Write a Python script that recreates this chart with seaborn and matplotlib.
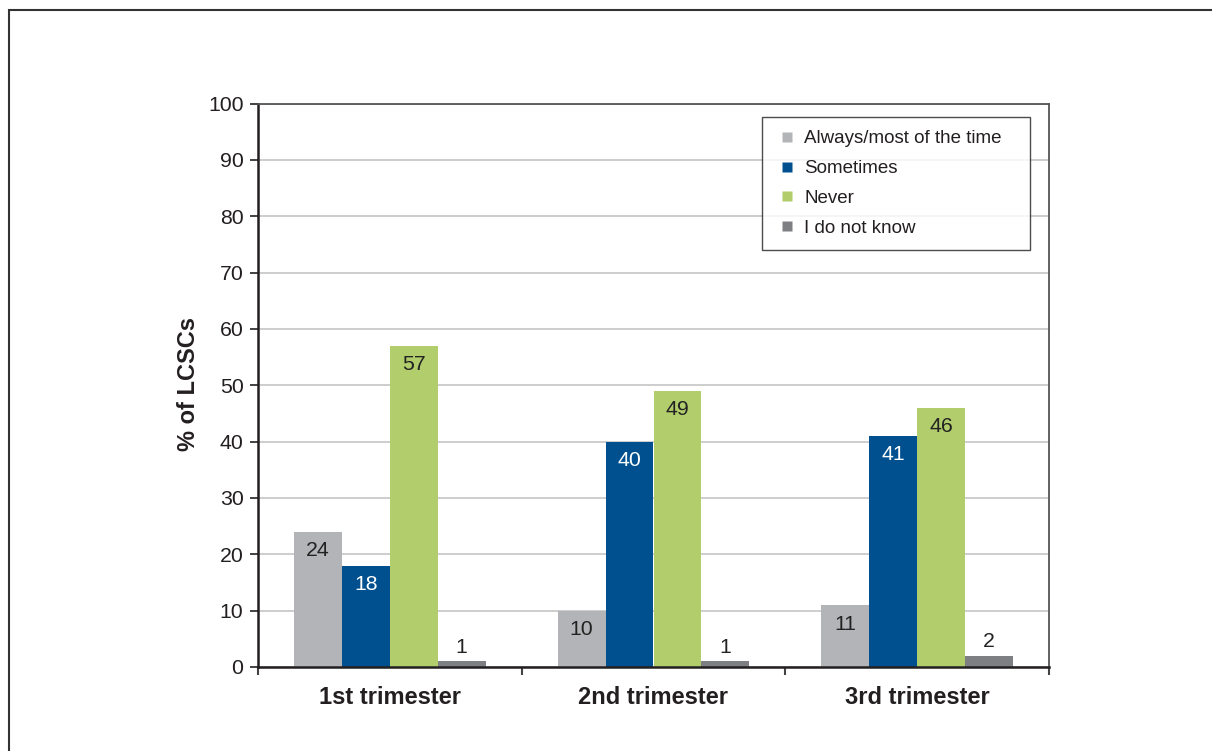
import matplotlib
matplotlib.use("Agg")
import matplotlib.pyplot as plt
from matplotlib.patches import Rectangle
from matplotlib.lines import Line2D
import seaborn as sns
import pandas as pd

# Survey responses by trimester (% of LCSCs)
trimesters = ["1st trimester", "2nd trimester", "3rd trimester"]
responses = ["Always/most of the time", "Sometimes", "Never", "I do not know"]
always = [24, 10, 11]
sometimes = [18, 40, 41]
never = [57, 49, 46]
dont_know = [1, 1, 2]
yticks = list(range(0, 101, 10))

colors = ["#b3b4b7", "#00508f", "#b1cd6c", "#7e7f82"]
label_colors = ["#222222", "white", "#222222", "#222222"]

rows = []
for resp, vals in zip(responses, [always, sometimes, never, dont_know]):
    for tri, v in zip(trimesters, vals):
        rows.append({"trimester": tri, "response": resp, "pct": v})
df = pd.DataFrame(rows)

sns.set_theme(style="white")
plt.rcParams["font.family"] = ["Liberation Sans", "DejaVu Sans"]

fig = plt.figure(figsize=(12.12, 7.51), dpi=100)
ax = fig.add_axes([258 / 1212, 1 - 667 / 751, (1049 - 258) / 1212, (667 - 103.5) / 751])

sns.barplot(data=df, x="trimester", y="pct", hue="response", order=trimesters,
            hue_order=responses, palette=colors, width=0.727, gap=0,
            saturation=1, ax=ax, legend=False, linewidth=0)

ax.set_ylim(0, 100)
ax.set_xlim(-0.5, 2.5)
ax.set_yticks(yticks)
ax.yaxis.grid(True, color="#c9c9c9", linewidth=1.3)
ax.set_axisbelow(True)

# category boundary ticks on the x axis, labels centered between them
ax.set_xticks([-0.5, 0.5, 1.5, 2.5])
ax.set_xticklabels([])
ax.set_xticks([0, 1, 2], minor=True)
ax.set_xticklabels(trimesters, minor=True, fontsize=17, fontweight="bold", color="#231f20")
ax.tick_params(axis="x", which="minor", length=0, pad=14)
ax.tick_params(axis="x", which="major", length=6, width=1.5, color="#444444", direction="out", bottom=True)
ax.tick_params(axis="y", length=6, width=1.3, color="#333333", direction="out", left=True,
               labelsize=15.3, labelcolor="#231f20", pad=4.5)

ax.set_xlabel("")
ax.set_ylabel("% of LCSCs", fontsize=17, fontweight="bold", color="#231f20")
ax.yaxis.set_label_coords(-0.073, 0.502)

for side in ["left", "bottom"]:
    ax.spines[side].set_color("#231f20")
    ax.spines[side].set_linewidth(1.8)
for side in ["top", "right"]:
    ax.spines[side].set_color("#555555")
    ax.spines[side].set_linewidth(1.3)

# value labels: inside the top of tall bars, above short ones
for i, container in enumerate(ax.containers):
    for bar, v in zip(container, [always, sometimes, never, dont_know][i]):
        x = bar.get_x() + bar.get_width() / 2
        if v >= 10:
            ax.annotate(f"{v}", (x, v), xytext=(0, -13.7), textcoords="offset points",
                        ha="center", va="center", fontsize=15.3, color=label_colors[i])
        else:
            ax.annotate(f"{v}", (x, v), xytext=(0, 10), textcoords="offset points",
                        ha="center", va="center", fontsize=15.3, color="#222222")

handles = [Line2D([], [], linestyle="none", marker="s", markersize=7.6,
                  markerfacecolor=c, markeredgecolor="none") for c in colors]
leg = ax.legend(handles, responses, loc="upper left",
                bbox_to_anchor=(0.637, 0.0, 0.339, 0.976), mode="expand",
                borderaxespad=0, frameon=True, fancybox=False, fontsize=13.5,
                handlelength=1.3, handletextpad=0.26,
                labelspacing=0.68, borderpad=0.7)
leg.get_frame().set_edgecolor("#231f20")
leg.get_frame().set_linewidth(1.0)
for t in leg.get_texts():
    t.set_color("#231f20")

# outer frame of the figure
fig.patches.append(Rectangle((9 / 1212, -0.2), 1.2, 1.2 - 10 / 751, transform=fig.transFigure,
                             fill=False, edgecolor="#333333", linewidth=1.5))

fig.savefig("out.png", dpi=100)
